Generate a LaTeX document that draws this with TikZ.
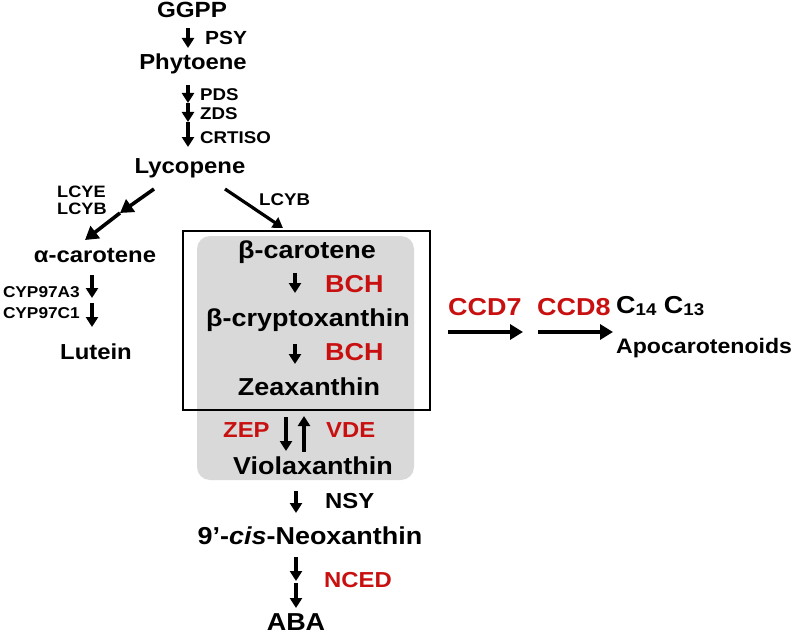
\documentclass[tikz,border=0pt]{standalone}
\usepackage{fontspec}
\setmainfont{Liberation Sans}[FakeStretch=1.1]
\usetikzlibrary{arrows.meta}
\definecolor{enzred}{RGB}{200,16,16}
\definecolor{boxgray}{RGB}{217,217,217}
\tikzset{
  txt/.style={inner sep=0pt, anchor=base, font=\bfseries},
  big/.style={txt, font=\fontsize{24.5}{24.5}\selectfont\bfseries},
  mid/.style={txt, font=\fontsize{21.7}{21.7}\selectfont\bfseries},
  sml/.style={txt, font=\fontsize{17}{17}\selectfont\bfseries},
  tny/.style={txt, font=\fontsize{15.7}{15.7}\selectfont\bfseries},
  enz/.style={text=enzred},
  arr/.style={line width=3.2pt, -{Triangle[length=10pt,width=12pt]}},
  arrb/.style={line width=3.6pt, -{Triangle[length=13pt,width=15pt]}},
}
\begin{document}
\begin{tikzpicture}[x=1pt,y=-1pt]
\useasboundingbox (0,0) rectangle (796,634);
% boxes
\fill[boxgray, rounded corners=13pt] (197,236) rectangle (414,480);
\draw[line width=2.4pt] (183,231) rectangle (430,410);
% metabolites
\node[mid, font=\fontsize{22}{22}\selectfont\bfseries] (ggpp) at (192,18) {GGPP};
\node[mid] (phyt) at (193,70) {Phytoene};
\node[mid] (lyc) at (190,173) {Lycopene};
\node[mid] (acar) at (95,262) {α-carotene};
\node[mid] (lut) at (96,359) {Lutein};
\node[big] (bcar) at (307,258) {β-carotene};
\node[big] (bcry) at (308,326) {β-cryptoxanthin};
\node[big] (zea) at (309,395) {Zeaxanthin};
\node[big] (vio) at (313,474) {Violaxanthin};
\node[big] (neo) at (310,544) {9’-\textit{cis}-Neoxanthin};
\node[big] (aba) at (296,630) {ABA};
% enzymes
\node[mid, anchor=base west, font=\fontsize{19}{19}\selectfont\bfseries] (psy) at (205,45) {PSY};
\node[sml, anchor=base west] (pds) at (200,100) {PDS};
\node[sml, anchor=base west] (zds) at (200,120) {ZDS};
\node[sml, anchor=base west] (crt) at (200,143) {CRTISO};
\node[sml, anchor=base west, font=\fontsize{16.5}{16.5}\selectfont\bfseries] (lcye) at (57,197) {LCYE};
\node[sml, anchor=base west, font=\fontsize{16.5}{16.5}\selectfont\bfseries] (lcyb1) at (57,214) {LCYB};
\node[sml, anchor=base west] (lcyb2) at (259,205) {LCYB};
\node[tny, anchor=base east] (cyp1) at (80,297) {CYP97A3};
\node[tny, anchor=base east] (cyp2) at (80,318) {CYP97C1};
\node[big, enz, anchor=base west] (bch1) at (325,292) {BCH};
\node[big, enz, anchor=base west] (bch2) at (325,360) {BCH};
\node[mid, enz, anchor=base west] (zep) at (223,437) {ZEP};
\node[mid, enz, anchor=base west] (vde) at (326,437) {VDE};
\node[mid, anchor=base west] (nsy) at (325,508) {NSY};
\node[mid, enz, anchor=base west] (nced) at (324,587) {NCED};
\node[big, enz, anchor=base west] (ccd7) at (448,315) {CCD7};
\node[big, enz, anchor=base west] (ccd8) at (537,315) {CCD8};
\node[big, anchor=base west] (c14) at (616,313) {C\raisebox{-0.12em}{\fontsize{17}{17}\selectfont 14} C\raisebox{-0.12em}{\fontsize{17}{17}\selectfont 13}};
\node[mid, font=\fontsize{21}{21}\selectfont\bfseries, anchor=base west] (apo) at (616,353) {Apocarotenoids};
% connector end points
\coordinate (p1a) at (188,28);  \coordinate (p1b) at (188,48);
\coordinate (p2a) at (188,85);  \coordinate (p2b) at (188,103);
\coordinate (p2c) at (188,122); \coordinate (p2d) at (188,147);
\coordinate (l1a) at (154,189); \coordinate (l1b) at (120,213); \coordinate (l1c) at (85,240);
\coordinate (l2a) at (225,189); \coordinate (l2b) at (283,228);
\coordinate (c1a) at (92,275);  \coordinate (c1b) at (92,298);
\coordinate (c2a) at (92,303);  \coordinate (c2b) at (92,327);
\coordinate (b1a) at (295,273); \coordinate (b1b) at (295,293);
\coordinate (b2a) at (295,344); \coordinate (b2b) at (295,364);
\coordinate (za) at (286,417);  \coordinate (zb) at (286,451);
\coordinate (va) at (304,452);  \coordinate (vb) at (304,416);
\coordinate (na) at (296,491);  \coordinate (nb) at (296,513);
\coordinate (e1a) at (296,557); \coordinate (e1b) at (296,581);
\coordinate (e2a) at (296,583); \coordinate (e2b) at (296,608);
\coordinate (k1a) at (448,332); \coordinate (k1b) at (523,332);
\coordinate (k2a) at (538,332); \coordinate (k2b) at (613,332);
% arrows
\draw[arr] (p1a) -- (p1b);
\draw[arr] (p2a) -- (p2b);
\draw[arr] (p2b) -- (p2c);
\draw[arr] (p2c) -- (p2d);
\draw[arrb] (l1a) -- (l1b);
\draw[arrb] (l1b) -- (l1c);
\draw[arr] (l2a) -- (l2b);
\draw[arr] (c1a) -- (c1b);
\draw[arr] (c2a) -- (c2b);
\draw[arr] (b1a) -- (b1b);
\draw[arr] (b2a) -- (b2b);
\draw[arr] (za) -- (zb);
\draw[arr] (va) -- (vb);
\draw[arr] (na) -- (nb);
\draw[arr] (e1a) -- (e1b);
\draw[arr] (e2a) -- (e2b);
\draw[arrb] (k1a) -- (k1b);
\draw[arrb] (k2a) -- (k2b);
\end{tikzpicture}
\end{document}
